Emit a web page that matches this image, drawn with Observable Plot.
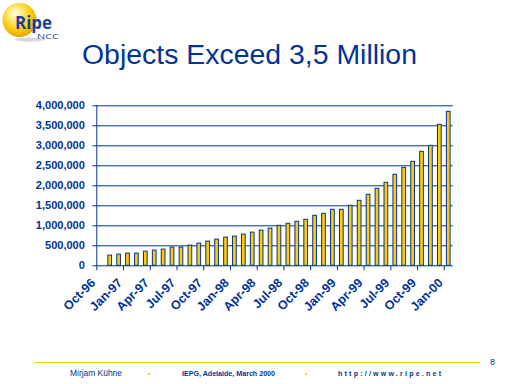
<!DOCTYPE html>
<html><head><meta charset="utf-8">
<script src="https://cdn.jsdelivr.net/npm/d3@7"></script>
<script src="https://cdn.jsdelivr.net/npm/@observablehq/plot@0.6"></script>
<style>
body{margin:0;background:#fff;}
#page{position:relative;width:512px;height:384px;overflow:hidden;background:#fff;font-family:"Liberation Sans",Arial,sans-serif;}
#deco{position:absolute;left:0;top:0;}
#chart{position:absolute;left:0;top:90px;}
</style></head>
<body>
<div id="page">
<svg id="deco" width="512" height="384" viewBox="0 0 512 384">
  <defs>
    <radialGradient id="sph" cx="45%" cy="40%" r="60%" fx="35%" fy="28%">
      <stop offset="0%" stop-color="#FFFDE6"/>
      <stop offset="35%" stop-color="#FFEB7A"/>
      <stop offset="75%" stop-color="#F7C800"/>
      <stop offset="100%" stop-color="#E3A600"/>
    </radialGradient>
  </defs>
  <ellipse cx="30" cy="39.5" rx="15" ry="2" fill="#d8d8d8"/>
  <circle cx="19.5" cy="20" r="17" fill="url(#sph)"/>
  <text x="15" y="29" font-family="Open Sans, Lato, sans-serif" font-weight="bold" font-size="18" fill="#1d3c9c" textLength="37" lengthAdjust="spacingAndGlyphs">Ripe</text>
  <text x="37" y="39" font-family="Open Sans, Lato, sans-serif" font-size="8" fill="#1d3c9c" textLength="22" lengthAdjust="spacingAndGlyphs">NCC</text>
  <text x="82" y="64" font-family="Liberation Sans, Arial, sans-serif" font-size="27" fill="#003399" textLength="335" lengthAdjust="spacingAndGlyphs">Objects Exceed 3,5 Million</text>
  <line x1="35" x2="480" y1="362.5" y2="362.5" stroke="#FFCC00" stroke-width="1.2"/>
  <text x="490" y="364.5" font-family="Liberation Sans, Arial, sans-serif" font-size="9" fill="#003399">8</text>
  <text x="70" y="376" font-family="Liberation Sans, Arial, sans-serif" font-size="9" fill="#003399" textLength="52" lengthAdjust="spacingAndGlyphs">Mirjam Kühne</text>
  <rect x="148" y="373" width="2" height="2" fill="#FFCC00"/>
  <text x="182" y="376" font-family="Liberation Sans, Arial, sans-serif" font-size="7" font-weight="bold" fill="#003399" textLength="93" lengthAdjust="spacingAndGlyphs">IEPG, Adelaide, March 2000</text>
  <rect x="305" y="373" width="2" height="2" fill="#FFCC00"/>
  <text x="338" y="376" font-family="Liberation Sans, Arial, sans-serif" font-size="7" font-weight="bold" fill="#003399" textLength="103" lengthAdjust="spacing">http://www.ripe.net</text>
</svg>
<div id="chart"></div>
</div>
<script>
const months = ["Oct-96","Nov-96","Dec-96","Jan-97","Feb-97","Mar-97","Apr-97","May-97","Jun-97","Jul-97","Aug-97","Sep-97","Oct-97","Nov-97","Dec-97","Jan-98","Feb-98","Mar-98","Apr-98","May-98","Jun-98","Jul-98","Aug-98","Sep-98","Oct-98","Nov-98","Dec-98","Jan-99","Feb-99","Mar-99","Apr-99","May-99","Jun-99","Jul-99","Aug-99","Sep-99","Oct-99","Nov-99","Dec-99","Jan-00"];
const objects = [null,255000,280000,305000,305000,355000,380000,405000,455000,455000,505000,555000,605000,655000,705000,730000,780000,830000,880000,930000,1000000,1050000,1100000,1150000,1250000,1300000,1400000,1400000,1500000,1625000,1775000,1925000,2075000,2275000,2450000,2600000,2850000,3000000,3525000,3850000];
const tickLabels = ["Oct-96","Jan-97","Apr-97","Jul-97","Oct-97","Jan-98","Apr-98","Jul-98","Oct-98","Jan-99","Apr-99","Jul-99","Oct-99","Jan-00"];
const yTicks = [0,500000,1000000,1500000,2000000,2500000,3000000,3500000,4000000];

const blue = "#003399";
const data = months.map((m, i) => ({i, month: m, value: objects[i]})).filter(d => d.value != null);
const bounds = tickLabels.map(m => months.indexOf(m));
const centers = bounds.map(b => b + 0.5);

const chart = Plot.plot({
  width: 512, height: 250,
  marginLeft: 96.3, marginRight: 59.3, marginTop: 15.3, marginBottom: 74.7,
  style: {fontFamily: "Liberation Sans, Arial, sans-serif", fontSize: "11px", fontWeight: "bold", color: blue, background: "transparent", overflow: "visible"},
  x: {type: "linear", domain: [0, months.length]},
  y: {domain: [0, 4000000]},
  marks: [
    Plot.ruleY(yTicks, {stroke: blue, strokeWidth: 1}),
    Plot.ruleX([0], {y1: 0, y2: 4000000, stroke: blue, strokeWidth: 1}),
    Plot.rectY(data, {x1: "i", x2: d => d.i + 1, y: "value", insetLeft: 2.6, insetRight: 2.6, fill: "#FFCC00", stroke: blue, strokeWidth: 1}),
    Plot.axisY({ticks: yTicks, tickFormat: d3.format(","), tickSize: 4, tickPadding: 8, stroke: blue, fill: blue, label: null}),
    Plot.axisX({ticks: bounds, tickFormat: () => "", tickSize: 5, stroke: blue, label: null}),
    Plot.axisX({ticks: centers, tickFormat: v => months[Math.floor(v)], tickSize: 0, tickPadding: 8, tickRotate: -45, fill: blue, label: null, fontSize: 12.5, dx: -8, dy: 7})
  ]
});
document.getElementById("chart").appendChild(chart);
</script>
</body></html>
